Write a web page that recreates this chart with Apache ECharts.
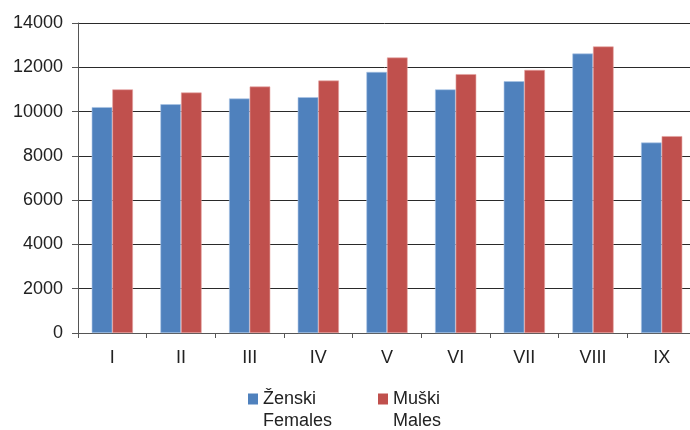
<!DOCTYPE html>
<html>
<head>
<meta charset="utf-8">
<script src="https://cdn.jsdelivr.net/npm/echarts@6/dist/echarts.min.js"></script>
<style>
    html, body { margin: 0; padding: 0; background: #fff; }
    #chart { width: 690px; height: 430px; }
</style>
</head>
<body>
<div id="chart"></div>
<script>
// months I..IX
const months = ['I', 'II', 'III', 'IV', 'V', 'VI', 'VII', 'VIII', 'IX']
const females = [10200, 10330, 10590, 10650, 11790, 11000, 11370, 12620, 8600]
const males = [11000, 10860, 11130, 11400, 12440, 11690, 11880, 12940, 8890]
const yTicks = [0, 14000, 2000] // min, max, step

// legend: first line is the series name, second line (English) drawn under it
const nameF = ['Ženski', 'Females']
const nameM = ['Muški', 'Males']

const font = 'Liberation Sans'
const legendStyle = {
    top: 390,
    padding: 0,
    icon: 'rect',
    itemWidth: 10,
    itemHeight: 11,
    itemStyle: { borderWidth: 0 },
    textStyle: { fontFamily: font, fontSize: 18, color: '#222' },
}
const subText = (x, txt) => ({
    type: 'text',
    left: x,
    top: 412,
    style: { text: txt, fontFamily: font, fontSize: 18, fill: '#222' },
})

const chart = echarts.init(document.getElementById('chart'))
chart.setOption({
    backgroundColor: '#fff',
    animation: false,
    textStyle: { fontFamily: font },
    grid: {
        left: 78,
        top: 23,
        width: 618,
        height: 310,
        outerBoundsMode: 'none',
    },
    legend: [
        Object.assign({ left: 248, data: [nameF[0]] }, legendStyle),
        Object.assign({ left: 378, data: [nameM[0]] }, legendStyle),
    ],
    graphic: [subText(263, nameF[1]), subText(393, nameM[1])],
    xAxis: {
        type: 'category',
        data: months,
        axisLine: { lineStyle: { color: '#555', width: 1 } },
        axisTick: { show: true, length: 5, lineStyle: { color: '#555' } },
        axisLabel: { color: '#222', fontSize: 18, margin: 16 },
    },
    yAxis: {
        type: 'value',
        min: yTicks[0],
        max: yTicks[1],
        interval: yTicks[2],
        axisLine: { show: true, lineStyle: { color: '#555', width: 1 } },
        axisTick: { show: true, length: 6, lineStyle: { color: '#555' } },
        axisLabel: { color: '#222', fontSize: 18, margin: 15, formatter: v => String(v) },
        splitLine: { lineStyle: { color: '#2a2a2a', width: 1 } },
    },
    series: [
        {
            name: nameF[0],
            type: 'bar',
            data: females,
            barGap: '0%',
            barCategoryGap: '40%',
            itemStyle: { color: '#4F81BD', borderColor: '#a9c4e6', borderWidth: 0.6 },
        },
        {
            name: nameM[0],
            type: 'bar',
            data: males,
            itemStyle: { color: '#C0504D', borderColor: '#e6a3a1', borderWidth: 0.6 },
        },
    ],
})
</script>
</body>
</html>
